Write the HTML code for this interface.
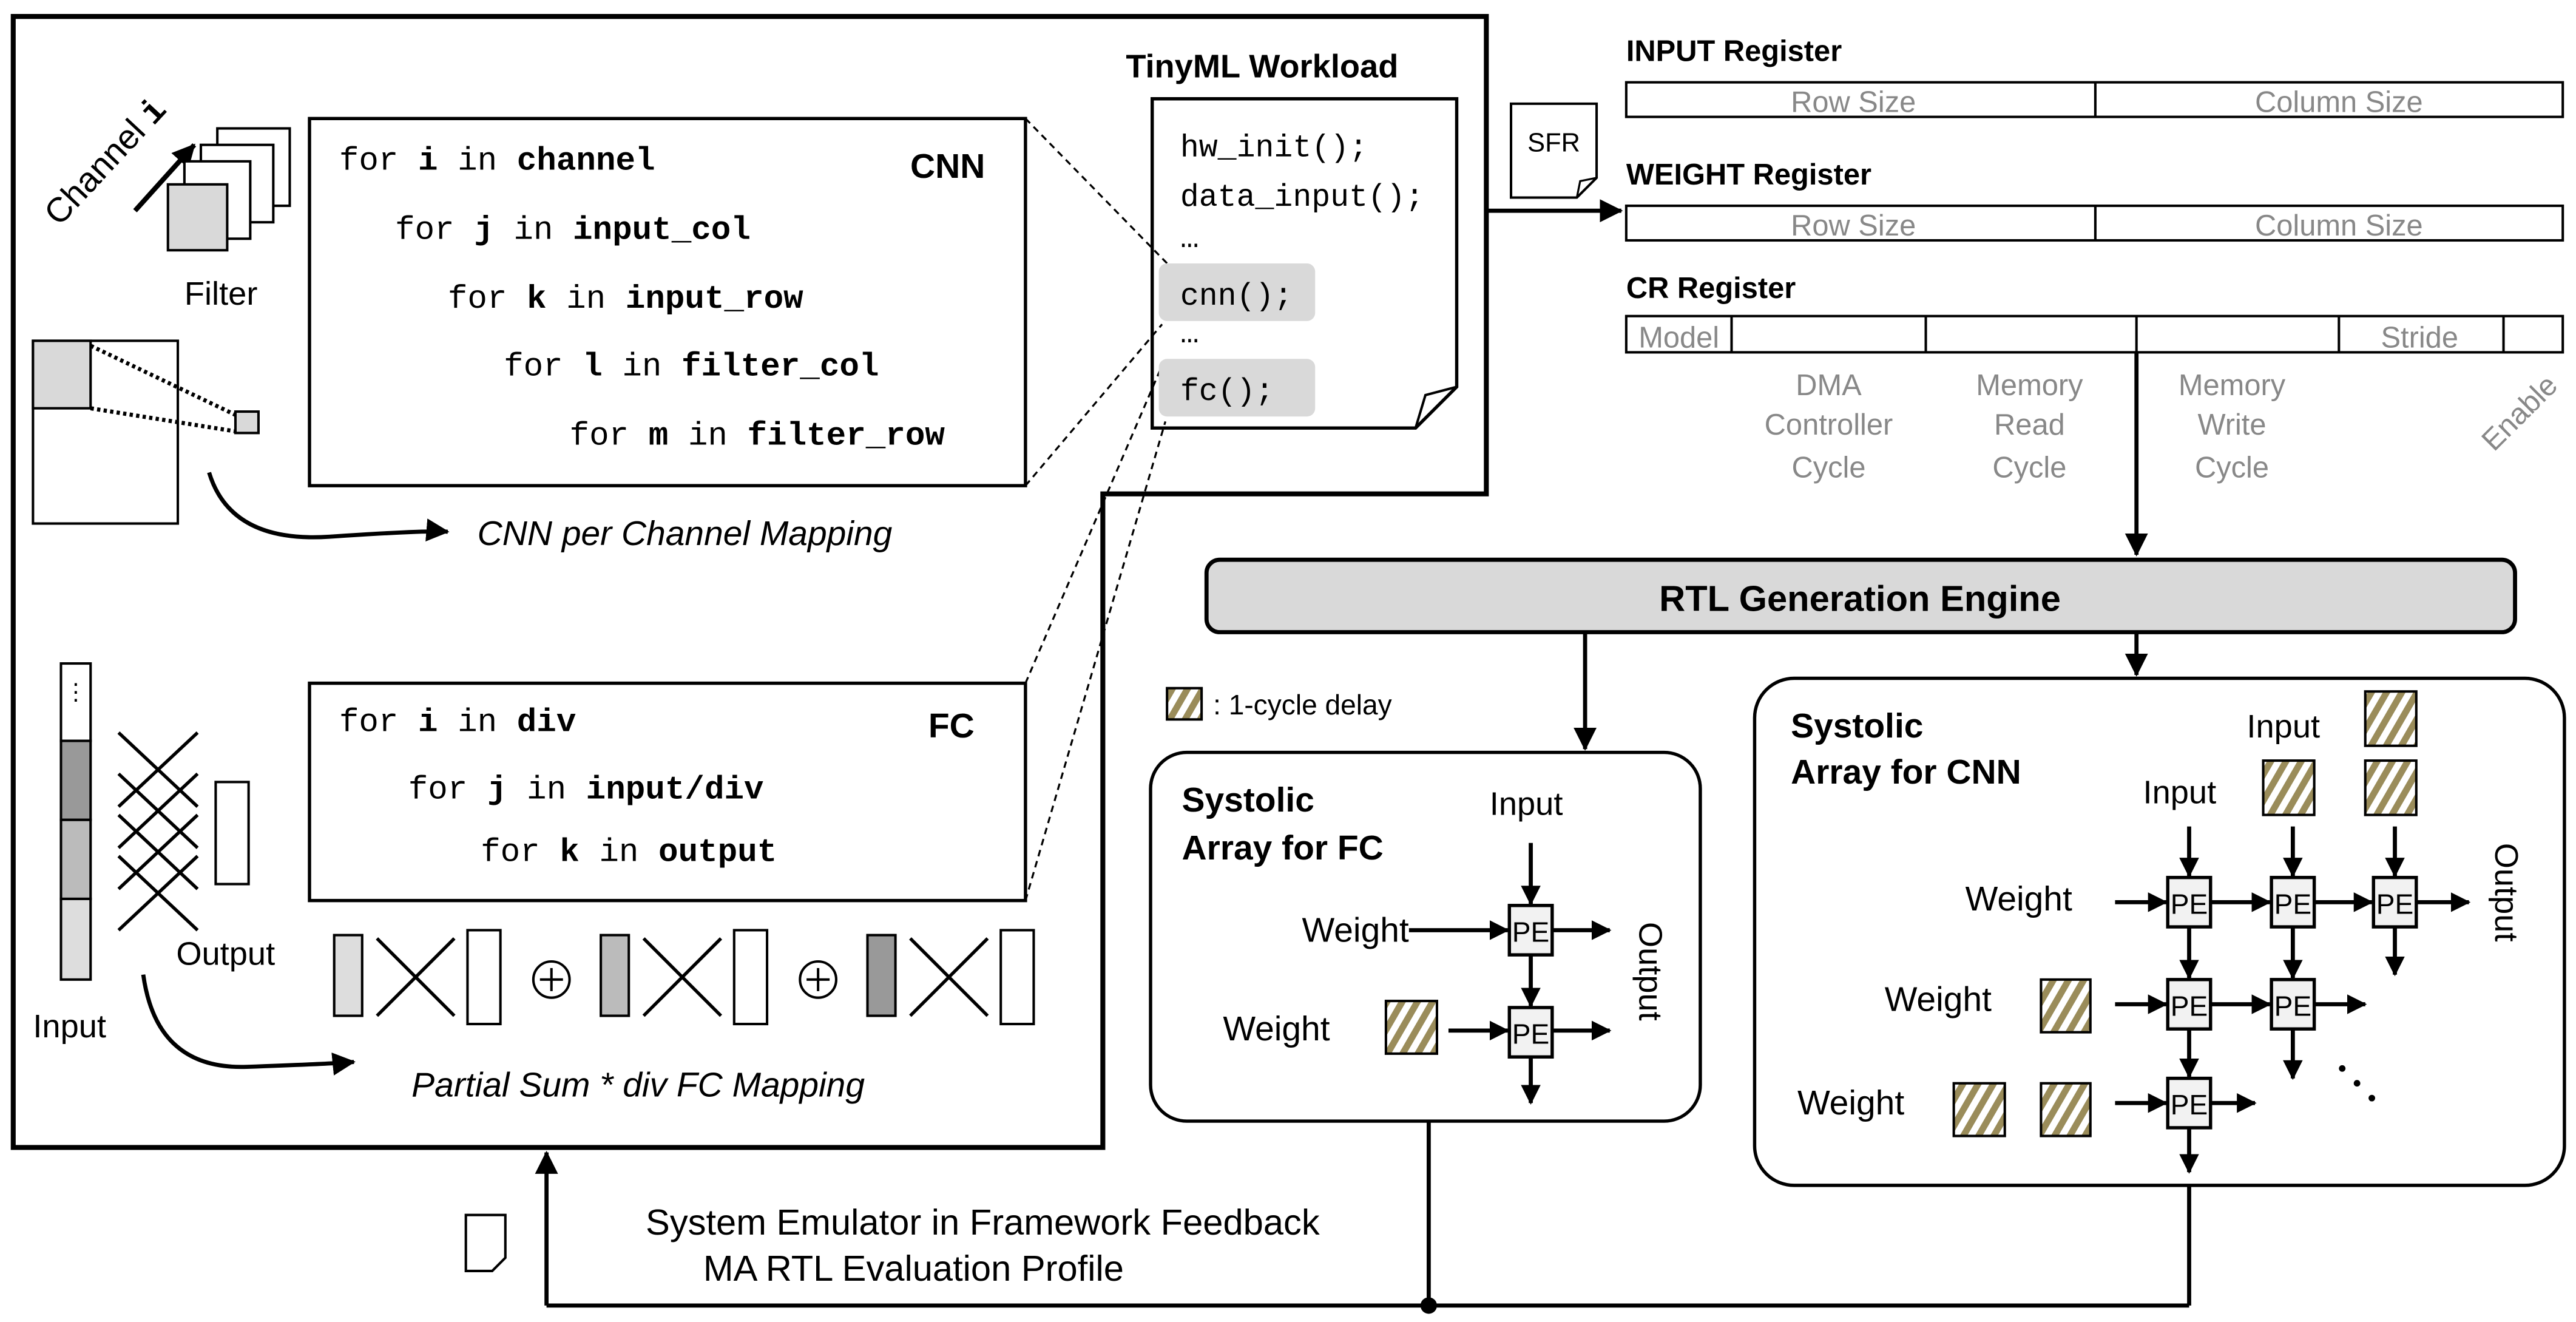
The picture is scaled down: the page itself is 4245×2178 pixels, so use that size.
<!DOCTYPE html>
<html><head><meta charset="utf-8"><style>
html,body{margin:0;padding:0;background:#fff}
svg{display:block}
text{font-family:"Liberation Sans",sans-serif}
text.m,tspan.m{font-family:"Liberation Mono",monospace;font-size:20px}
.b{font-weight:bold}
.g{fill:#888}
</style></head><body>
<svg width="4245" height="2178" viewBox="0 0 1565 803" xmlns="http://www.w3.org/2000/svg">
<defs>
<marker id="a" markerWidth="12" markerHeight="12" refX="11" refY="6" orient="auto" markerUnits="userSpaceOnUse" viewBox="0 0 12 12"><path d="M0,0L12,6L0,12z" fill="#000"/></marker>
<marker id="A" markerWidth="14" markerHeight="14" refX="13" refY="7" orient="auto" markerUnits="userSpaceOnUse" viewBox="0 0 14 14"><path d="M0,0L14,7L0,14z" fill="#000"/></marker>
<pattern id="h" width="8" height="8" patternUnits="userSpaceOnUse" patternTransform="rotate(30)"><rect width="8" height="8" fill="#fff"/><rect width="4" height="8" fill="#9a8c5a"/></pattern>
</defs>
<g fill="none" stroke="#000">
<path d="M8,10H903V300H670V697H8Z" stroke-width="3"/>
<rect x="188" y="72" width="435" height="223" stroke-width="2"/>
<rect x="188" y="415" width="435" height="132" stroke-width="2"/>
<path d="M700,60H885V235L860,260H700Z" stroke-width="2"/>
<path d="M885,235L866,240L860,260" stroke-width="1.5"/>
<g stroke-width="1.2" stroke-dasharray="4,3">
<path d="M623,72L712,163M623,295L706,197M623,415L706,222M623,547L708,256"/>
</g>
</g>
<rect x="704" y="160" width="95" height="35" rx="5" fill="#d9d9d9"/>
<rect x="704" y="218" width="95" height="35" rx="5" fill="#d9d9d9"/>
<text x="684" y="47" font-size="20" class="b">TinyML Workload</text>
<text class="m" x="717" y="95" style="font-size:19px">hw_init();</text>
<text class="m" x="717" y="125" style="font-size:19px">data_input();</text>
<text class="m" x="717" y="150" style="font-size:19px">…</text>
<text class="m" x="717" y="185" style="font-size:19px">cnn();</text>
<text class="m" x="717" y="208" style="font-size:19px">…</text>
<text class="m" x="717" y="243" style="font-size:19px">fc();</text>
<text class="m" x="206" y="103">for <tspan class="b">i</tspan> in <tspan class="b">channel</tspan></text>
<text class="m" x="240" y="145">for <tspan class="b">j</tspan> in <tspan class="b">input_col</tspan></text>
<text class="m" x="272" y="187">for <tspan class="b">k</tspan> in <tspan class="b">input_row</tspan></text>
<text class="m" x="306" y="228">for <tspan class="b">l</tspan> in <tspan class="b">filter_col</tspan></text>
<text class="m" x="346" y="270">for <tspan class="b">m</tspan> in <tspan class="b">filter_row</tspan></text>
<text x="553" y="108" font-size="21" class="b">CNN</text>
<text class="m" x="206" y="444">for <tspan class="b">i</tspan> in <tspan class="b">div</tspan></text>
<text class="m" x="248" y="485">for <tspan class="b">j</tspan> in <tspan class="b">input/div</tspan></text>
<text class="m" x="292" y="523">for <tspan class="b">k</tspan> in <tspan class="b">output</tspan></text>
<text x="564" y="448" font-size="21" class="b">FC</text>
<!-- channel/filter -->
<text transform="translate(36,138) rotate(-47)" font-size="21">Channel <tspan class="m b" style="font-size:21px">i</tspan></text>
<path d="M82,128L118,88" stroke="#000" stroke-width="3" marker-end="url(#A)"/>
<g stroke="#000" stroke-width="1.5">
<rect x="132" y="78" width="44" height="47" fill="#fff"/>
<rect x="122" y="88" width="44" height="47" fill="#fff"/>
<rect x="112" y="98" width="40" height="47" fill="#fff"/>
<rect x="102" y="112" width="36" height="40" fill="#d9d9d9"/>
<rect x="20" y="207" width="88" height="111" fill="#fff"/>
<rect x="20" y="207" width="35" height="41" fill="#d9d9d9"/>
<rect x="143" y="250" width="14" height="13" fill="#d9d9d9"/>
<path d="M55,210L143,252M55,248L143,262" stroke-width="2.5" stroke-dasharray="2,2"/>
</g>
<text x="112" y="185" font-size="20">Filter</text>
<path d="M127,287Q140,330 200,326T272,323" fill="none" stroke="#000" stroke-width="2.5" marker-end="url(#A)"/>
<text x="290" y="331" font-size="21" font-style="italic">CNN per Channel Mapping</text>
<!-- FC left -->
<g stroke="#000" stroke-width="1.5">
<rect x="37" y="403" width="18" height="47" fill="#fff"/>
<rect x="37" y="450" width="18" height="48" fill="#999"/>
<rect x="37" y="498" width="18" height="48" fill="#bbb"/>
<rect x="37" y="546" width="18" height="49" fill="#ddd"/>
<rect x="131" y="475" width="20" height="62" fill="#fff"/>
<path d="M72,445L120,490M72,490L120,445M72,470L120,515M72,515L120,470M72,495L120,540M72,540L120,495M72,520L120,565M72,565L120,520" stroke-width="2"/>
</g>
<text x="46" y="425" font-size="14" text-anchor="middle">⋮</text>
<text x="107" y="586" font-size="20">Output</text>
<text x="20" y="630" font-size="20">Input</text>
<g stroke="#000" stroke-width="1.5">
<rect x="203" y="568" width="17" height="49" fill="#ddd"/>
<path d="M229,570L276,617M229,617L276,570" stroke-width="2"/>
<rect x="284" y="565" width="20" height="57" fill="#fff"/>
<circle cx="335" cy="595" r="11" fill="#fff"/><path d="M328,595H342M335,588V602"/>
<rect x="365" y="568" width="17" height="49" fill="#bbb"/>
<path d="M391,570L438,617M391,617L438,570" stroke-width="2"/>
<rect x="446" y="565" width="20" height="57" fill="#fff"/>
<circle cx="497" cy="595" r="11" fill="#fff"/><path d="M490,595H504M497,588V602"/>
<rect x="527" y="568" width="17" height="49" fill="#999"/>
<path d="M553,570L600,617M553,617L600,570" stroke-width="2"/>
<rect x="608" y="565" width="20" height="57" fill="#fff"/>
</g>
<path d="M87,592Q95,650 150,648T215,645" fill="none" stroke="#000" stroke-width="2.5" marker-end="url(#A)"/>
<text x="250" y="666" font-size="21" font-style="italic">Partial Sum * div FC Mapping</text>
<!-- registers -->
<text x="988" y="37" font-size="18" class="b">INPUT Register</text>
<text x="988" y="112" font-size="18" class="b">WEIGHT Register</text>
<text x="988" y="181" font-size="18" class="b">CR Register</text>
<g fill="#fff" stroke="#000" stroke-width="1.5">
<rect x="988" y="50" width="569" height="21"/><path d="M1273,50V71"/>
<rect x="988" y="125" width="569" height="21"/><path d="M1273,125V146"/>
<rect x="988" y="192" width="569" height="22"/><path d="M1052,192V214M1170,192V214M1298,192V214M1421,192V214M1521,192V214"/>
</g>
<g class="g" font-size="18" text-anchor="middle">
<text x="1126" y="68">Row Size</text><text x="1421" y="68">Column Size</text>
<text x="1126" y="143">Row Size</text><text x="1421" y="143">Column Size</text>
<text x="1020" y="211">Model</text><text x="1470" y="211">Stride</text>
<text x="1111" y="240">DMA</text><text x="1111" y="264">Controller</text><text x="1111" y="290">Cycle</text>
<text x="1233" y="240">Memory</text><text x="1233" y="264">Read</text><text x="1233" y="290">Cycle</text>
<text x="1356" y="240">Memory</text><text x="1356" y="264">Write</text><text x="1356" y="290">Cycle</text>
<text transform="translate(1535,255) rotate(-45)">Enable</text>
</g>
<path d="M918,63H970V108L958,120H918Z" fill="#fff" stroke="#000" stroke-width="1.5"/>
<path d="M970,108L960,110L958,120" fill="none" stroke="#000" stroke-width="1.2"/>
<text x="944" y="92" font-size="16" text-anchor="middle">SFR</text>
<g stroke="#000" stroke-width="2.5" fill="none">
<path d="M903,128H985" marker-end="url(#A)"/>
<path d="M1298,214V337" marker-end="url(#A)"/>
<path d="M963,384V455" marker-end="url(#A)"/>
<path d="M1298,384V410" marker-end="url(#A)"/>
<path d="M332,793V700" marker-end="url(#A)"/>
</g>
<rect x="733" y="340" width="795" height="44" rx="8" fill="#d9d9d9" stroke="#000" stroke-width="2.5"/>
<text x="1130" y="371" font-size="22" class="b" text-anchor="middle">RTL Generation Engine</text>
<rect x="709" y="418" width="21" height="19" fill="url(#h)" stroke="#000" stroke-width="1.5"/>
<text x="737" y="434" font-size="17">: 1-cycle delay</text>
<!-- FC systolic -->
<rect x="699" y="457" width="334" height="224" rx="22" fill="none" stroke="#000" stroke-width="2"/>
<text x="718" y="493" font-size="21" class="b">Systolic</text>
<text x="718" y="522" font-size="21" class="b">Array for FC</text>
<text x="905" y="495" font-size="20">Input</text>
<text x="791" y="572" font-size="21">Weight</text>
<text x="743" y="632" font-size="21">Weight</text>
<rect x="842" y="608" width="31" height="32" fill="url(#h)" stroke="#000" stroke-width="1.5"/>
<text transform="translate(996,560) rotate(90)" font-size="20">Output</text>
<!-- CNN systolic -->
<rect x="1066" y="412" width="492" height="308" rx="24" fill="none" stroke="#000" stroke-width="2"/>
<text x="1088" y="448" font-size="21" class="b">Systolic</text>
<text x="1088" y="476" font-size="21" class="b">Array for CNN</text>
<text x="1365" y="448" font-size="20">Input</text>
<text x="1302" y="488" font-size="20">Input</text>
<text x="1194" y="553" font-size="21">Weight</text>
<text x="1145" y="614" font-size="21">Weight</text>
<text x="1092" y="677" font-size="21">Weight</text>
<text transform="translate(1516,512) rotate(90)" font-size="20">Output</text>
<g fill="url(#h)" stroke="#000" stroke-width="1.5">
<rect x="1437" y="420" width="31" height="33"/>
<rect x="1375" y="462" width="31" height="33"/>
<rect x="1437" y="462" width="31" height="33"/>
<rect x="1240" y="595" width="30" height="32"/>
<rect x="1187" y="658" width="31" height="32"/>
<rect x="1240" y="658" width="30" height="32"/>
</g>
<g fill="#f2f2f2" stroke="#000" stroke-width="2">
<rect x="917" y="550" width="26" height="30"/><rect x="917" y="612" width="26" height="30"/>
<rect x="1317" y="533" width="26" height="30"/><rect x="1380" y="533" width="26" height="30"/><rect x="1442" y="533" width="26" height="30"/>
<rect x="1317" y="595" width="26" height="30"/><rect x="1380" y="595" width="26" height="30"/>
<rect x="1317" y="655" width="26" height="30"/>
</g>
<g stroke="#000" stroke-width="2.5" fill="none" marker-end="url(#a)">
<path d="M930,512V549"/><path d="M856,565H916"/><path d="M943,565H978"/><path d="M930,580V611"/>
<path d="M880,626H916"/><path d="M943,626H978"/><path d="M930,642V670"/>
<path d="M1330,502V532"/><path d="M1393,502V532"/><path d="M1455,502V532"/>
<path d="M1285,548H1316"/><path d="M1343,548H1379"/><path d="M1406,548H1441"/><path d="M1468,548H1500"/>
<path d="M1285,610H1316"/><path d="M1343,610H1379"/><path d="M1406,610H1437"/>
<path d="M1285,670H1316"/><path d="M1343,670H1370"/>
<path d="M1330,563V594"/><path d="M1393,563V594"/><path d="M1455,563V592"/>
<path d="M1330,625V654"/><path d="M1393,625V655"/><path d="M1330,685V712"/>
</g>
<g font-size="17" text-anchor="middle">
<text x="930" y="572">PE</text><text x="930" y="634">PE</text>
<text x="1330" y="555">PE</text><text x="1393" y="555">PE</text><text x="1455" y="555">PE</text>
<text x="1330" y="617">PE</text><text x="1393" y="617">PE</text>
<text x="1330" y="677">PE</text>
</g>
<g fill="#000"><circle cx="1423" cy="649" r="2"/><circle cx="1432" cy="658" r="2"/><circle cx="1441" cy="667" r="2"/></g>
<!-- bottom -->
<path d="M868,681V793M1330,720V793M332,793H1330" stroke="#000" stroke-width="2.5" fill="none"/>
<circle cx="868" cy="793" r="5" fill="#000"/>
<path d="M283,738H307V764L299,772H283Z" fill="#fff" stroke="#000" stroke-width="1.5"/>
<text x="597" y="750" font-size="22" text-anchor="middle">System Emulator in Framework Feedback</text>
<text x="555" y="778" font-size="22" text-anchor="middle">MA RTL Evaluation Profile</text>
</svg>
</body></html>
